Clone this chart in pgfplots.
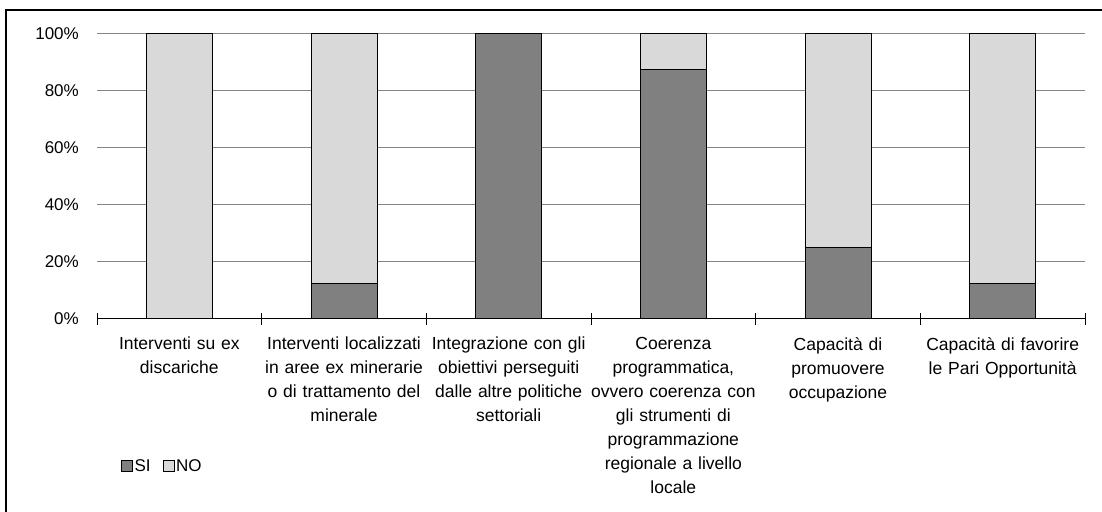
\documentclass[border=0pt]{standalone}
\usepackage{fontspec}
\setmainfont{Liberation Sans}
\usepackage{pgfplots}
\pgfplotsset{compat=1.18}
\definecolor{siC}{HTML}{808080}
\definecolor{noC}{HTML}{D9D9D9}
\definecolor{gridC}{HTML}{858585}
\begin{document}
\begin{tikzpicture}[x=1pt,y=1pt]
\useasboundingbox (0,0) rectangle (1102,511);
\draw[line width=1.6pt] (6,-2) -- (6,501) -- (1104,501);
\begin{axis}[
  at={(97pt,192pt)}, anchor=south west,
  scale only axis, width=988pt, height=285pt,
  ybar stacked, bar width=66pt,
  xmin=-0.5, xmax=5.5, ymin=0, ymax=100,
  axis x line*=bottom, axis y line*=left,
  x axis line style={line width=1pt, -},
  y axis line style={draw=none},
  ytick={0,20,40,60,80,100},
  yticklabels={0\%,20\%,40\%,60\%,80\%,100\%},
  ymajorgrids, grid style={gridC, line width=1pt},
  ytick style={draw=none},
  yticklabel style={font=\fontsize{17}{20}\selectfont, inner sep=0pt, xshift=-12pt},
  xtick={-0.5,0.5,...,5.5},
  xticklabels={},
  xtick style={black, line width=1pt},
  major tick length=12pt, tick align=center,
  extra x ticks={0,1,2,3,4,5},
  extra x tick labels={{Interventi su ex\\discariche},
    {Interventi localizzati\\in aree ex minerarie\\o di trattamento del\\minerale},
    {Integrazione con gli\\obiettivi perseguiti\\dalle altre politiche\\settoriali},
    {Coerenza\\programmatica,\\ovvero coerenza con\\gli strumenti di\\programmazione\\regionale a livello\\locale},
    {Capacità di\\promuovere\\occupazione},
    {Capacità di favorire\\le Pari Opportunità}},
  extra x tick style={tick style={draw=none}, grid=none,
    xticklabel style={align=center, text width=165pt, inner sep=0pt, yshift=-12pt,
      font=\fontsize{17.5}{24}\selectfont}},
  legend style={at={(0.021,-0.516)}, anchor=west, draw=none, fill=none,
    legend columns=2, font=\fontsize{17}{20}\selectfont,
    /tikz/every even column/.append style={column sep=10pt}},
  legend image code/.code={\draw[#1, draw=black, line width=0.6pt] (0pt,-5pt) rectangle (11pt,6pt);},
  clip=false,
]
\addplot+[ybar, fill=siC, draw=black, line width=1pt] coordinates {(0,0) (1,12.5) (2,100) (3,87.5) (4,25) (5,12.5)};
\addplot+[ybar, fill=noC, draw=black, line width=1pt] coordinates {(0,100) (1,87.5) (2,0) (3,12.5) (4,75) (5,87.5)};
\legend{SI,NO}
\end{axis}
\end{tikzpicture}
\end{document}
